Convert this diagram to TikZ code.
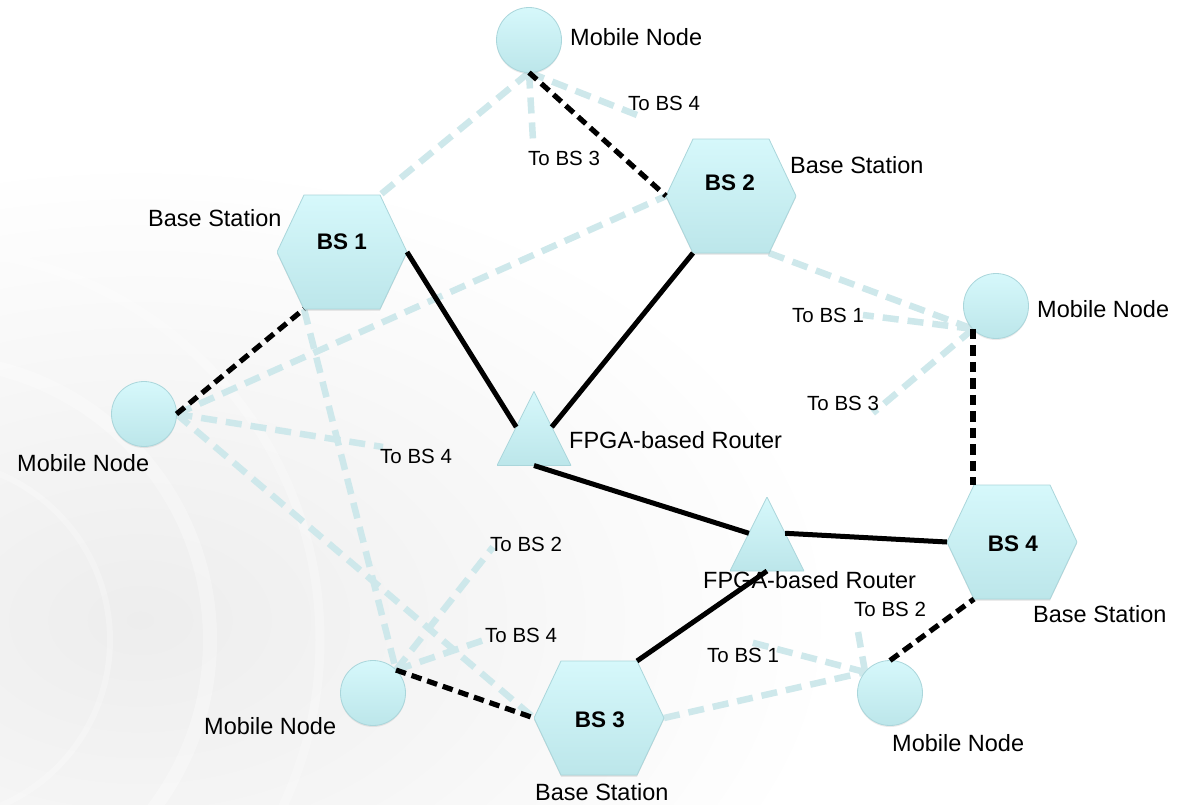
\documentclass[tikz,border=0pt]{standalone}
\usepackage{fontspec}
\setmainfont{Liberation Sans}
\usetikzlibrary{calc,shadows}
\definecolor{shTop}{RGB}{214,248,251}
\definecolor{shBot}{RGB}{188,230,234}
\definecolor{shEdge}{RGB}{170,214,219}
\definecolor{ltLine}{RGB}{206,232,235}
\pgfdeclarelayer{bgpic}
\pgfdeclarelayer{lowlines}
\pgfdeclarelayer{toplines}
\pgfsetlayers{bgpic,lowlines,main,toplines}
\newcommand\hexpts[1]{%
  \coordinate (#1-tl) at ($(#1.center)+(-38,-57)$);
  \coordinate (#1-tr) at ($(#1.center)+(38,-57)$);
  \coordinate (#1-bl) at ($(#1.center)+(-38,57)$);
  \coordinate (#1-br) at ($(#1.center)+(38,57)$);}
\tikzset{
  mobile/.style={circle, minimum size=65pt, inner sep=0pt, outer sep=0pt,
    top color=shTop, bottom color=shBot, draw=shEdge, line width=0.8pt,
    drop shadow={opacity=0.16, shadow xshift=0pt, shadow yshift=-1.5pt}},
  hexa/.style={rectangle, minimum width=130pt, minimum height=118pt, inner sep=0pt, outer sep=0pt,
    path picture={\begin{scope}[x=1pt,y=-1pt,shift={(path picture bounding box.center)}]
      \fill[black,opacity=.12] (-65,1.5)--(-38,58.5)--(38,58.5)--(65,1.5)--(38,-55.5)--(-38,-55.5)--cycle;
      \shade[top color=shTop,bottom color=shBot,draw=shEdge,line width=0.8pt]
        (-65,0)--(-38,57)--(38,57)--(65,0)--(38,-57)--(-38,-57)--cycle;
    \end{scope}}},
  router/.style={rectangle, minimum width=74pt, minimum height=74pt, inner sep=0pt, outer sep=0pt,
    path picture={\shade[top color=shTop,bottom color=shBot,draw=shEdge,line width=0.8pt]
      (path picture bounding box.south west) -- (path picture bounding box.south east)
      -- (path picture bounding box.north) -- cycle;}},
  lbl/.style={font=\fontsize{23.5}{28}\selectfont, inner sep=0pt, anchor=base west, text=black},
  tolbl/.style={font=\fontsize{20.5}{24}\selectfont, inner sep=0pt, anchor=base west, text=black},
  bslbl/.style={font=\bfseries\fontsize{22.5}{26}\selectfont, inner sep=0pt, anchor=base, text=black},
  solidlink/.style={draw=black, line width=5pt},
  dashlink/.style={draw=black, line width=5.2pt, dash pattern=on 10.5pt off 6pt},
  ghostlink/.style={draw=ltLine, line width=6.5pt, dash pattern=on 16pt off 9pt}
}
\begin{document}
\begin{tikzpicture}[x=1pt,y=-1pt]
\useasboundingbox (0,0) rectangle (1184,804);
\begin{pgfonlayer}{bgpic}
  \fill[white] (0,0) rectangle (1184,804);
  \begin{scope}
    \clip (0,0) rectangle (1184,804);
    \shade[inner color=black!7, outer color=white] (140,620) ellipse [x radius=700, y radius=460];
    \draw[white, line width=14pt, opacity=.3] (-70,640) circle [radius=280];
    \draw[white, line width=9pt, opacity=.25] (-70,640) circle [radius=390];
    \draw[white, line width=6pt, opacity=.25] (-70,640) circle [radius=180];
  \end{scope}
\end{pgfonlayer}

% shapes
\node[mobile] (mnT) at (529,40) {};
\node[mobile] (mnL) at (144,414) {};
\node[mobile] (mnR) at (996,306) {};
\node[mobile] (mnBL) at (373,693) {};
\node[mobile] (mnBR) at (890,693) {};
\node[hexa] (bs1) at (342,252) {};
\node[hexa] (bs2) at (731,196) {};
\node[hexa] (bs3) at (599,718) {};
\node[hexa] (bs4) at (1012,542) {};
\hexpts{bs1}\hexpts{bs2}\hexpts{bs3}\hexpts{bs4}
\node[router] (r1) at (534,428.5) {};
\node[router] (r2) at (767,534) {};

% labels
\node[bslbl] (l1) at (342,249) {BS 1};
\node[bslbl] (l2) at (730,190) {BS 2};
\node[bslbl] (l3) at (600,727) {BS 3};
\node[bslbl] (l4) at (1013,551) {BS 4};
\node[lbl] (tMNT) at (570,45) {Mobile Node};
\node[lbl] (tBS2) at (790,173) {Base Station};
\node[lbl] (tBS1) at (148,226) {Base Station};
\node[lbl] (tMNL) at (17,471) {Mobile Node};
\node[lbl] (tMNR) at (1037,317) {Mobile Node};
\node[lbl] (tR1) at (569,448) {FPGA-based Router};
\node[lbl] (tR2) at (703,588) {FPGA-based Router};
\node[lbl] (tBS4) at (1033,622) {Base Station};
\node[lbl] (tMNBL) at (204,734) {Mobile Node};
\node[lbl] (tBS3) at (535,800) {Base Station};
\node[lbl] (tMNBR) at (892,751) {Mobile Node};
\node[tolbl] (to1) at (628,110) {To BS 4};
\node[tolbl] (to2) at (528,165) {To BS 3};
\node[tolbl] (to3) at (792,322) {To BS 1};
\node[tolbl] (to4) at (807,410) {To BS 3};
\node[tolbl] (to5) at (380,463) {To BS 4};
\node[tolbl] (to6) at (490,551) {To BS 2};
\node[tolbl] (to7) at (485,642) {To BS 4};
\node[tolbl] (to8) at (707,662) {To BS 1};
\node[tolbl] (to9) at (854,616) {To BS 2};

% free ends of the faint links
\coordinate (e1) at (533,140);
\coordinate (e2) at (637,115);
\coordinate (e3) at (383,447);
\coordinate (e4) at (493,547);
\coordinate (e5) at (490,638);
\coordinate (e6) at (863,315);
\coordinate (e7) at (873,413);
\coordinate (e8) at (750,642);
\coordinate (e9) at (858,632);
\coordinate (bs4top) at ($(bs4.center)+(0,-57)$);

\begin{pgfonlayer}{lowlines}
  \draw[ghostlink] (mnT.south) -- (bs1-tr);
  \draw[ghostlink] (mnT.south) -- (e1);
  \draw[ghostlink] (mnT.south) -- (e2);
  \draw[ghostlink] (mnL.east) -- (bs2.west);
  \draw[ghostlink] (mnL.east) -- (e3);
  \draw[ghostlink] (mnL.east) -- (bs3.west);
  \draw[ghostlink] (bs1-bl) -- (mnBL.45);
  \draw[ghostlink] (mnBL.45) -- (e4);
  \draw[ghostlink] (mnBL.45) -- (e5);
  \draw[ghostlink] (bs2-br) -- (mnR.225);
  \draw[ghostlink] (mnR.225) -- (e6);
  \draw[ghostlink] (mnR.225) -- (e7);
  \draw[ghostlink] (bs3.east) -- (mnBR.140);
  \draw[ghostlink] (mnBR.140) -- (e8);
  \draw[ghostlink] (mnBR.140) -- (e9);
\end{pgfonlayer}

\begin{pgfonlayer}{toplines}
  \draw[solidlink] (bs1.east) -- ($(r1.north)!0.48!(r1.south west)$);
  \draw[solidlink] (bs2-bl) -- ($(r1.north)!0.48!(r1.south east)$);
  \draw[solidlink] (r1.south) -- ($(r2.north)!0.49!(r2.south west)$);
  \draw[solidlink] ($(r2.north)!0.49!(r2.south east)$) -- (bs4.west);
  \draw[solidlink] (bs3-tr) -- (r2.south);
  \draw[dashlink] (mnT.south) -- (bs2.west);
  \draw[dashlink] (mnL.east) -- (bs1-bl);
  \draw[dashlink] (mnR.225) -- (mnR.225 |- bs4top);
  \draw[dashlink] (mnBR.north) -- (bs4-bl);
  \draw[dashlink] (mnBL.45) -- (bs3.west);
\end{pgfonlayer}
\end{tikzpicture}
\end{document}
